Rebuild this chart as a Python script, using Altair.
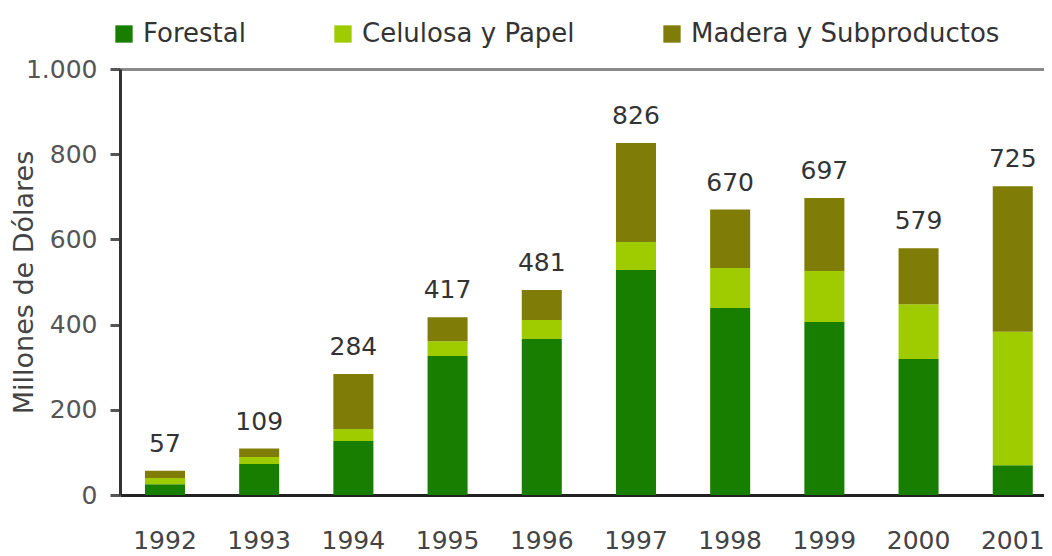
import altair as alt
import pandas as pd

years = ["1992", "1993", "1994", "1995", "1996", "1997", "1998", "1999", "2000", "2001"]
forestal = [25, 73, 127, 326, 366, 528, 439, 406, 319, 70]
celulosa = [15, 16, 28, 35, 45, 66, 94, 120, 129, 313]
madera = [17, 20, 129, 56, 70, 232, 137, 171, 131, 342]
totals = [57, 109, 284, 417, 481, 826, 670, 697, 579, 725]
series = ["Forestal", "Celulosa y Papel", "Madera y Subproductos"]
colors = ["#187e00", "#9ecc00", "#807c08"]

rows = []
for i, y in enumerate(years):
    for k, (name, vals) in enumerate(zip(series, [forestal, celulosa, madera])):
        rows.append({"year": y, "serie": name, "valor": vals[i], "orden": k})
df = pd.DataFrame(rows)
tot = pd.DataFrame({"year": years, "total": totals})

FONT = "DejaVu Sans"

xenc = alt.X("year:N", sort=years, title=None,
             scale=alt.Scale(paddingInner=0.575, paddingOuter=0.192, align=0.69),
             axis=alt.Axis(labelAngle=0, ticks=False, labelPadding=33, labelFontSize=25,
                           labelColor="#444", labelFont=FONT, domainColor="#222", domainWidth=3))

bars = alt.Chart(df).mark_bar().encode(
    x=xenc,
    y=alt.Y("valor:Q", stack="zero",
            scale=alt.Scale(domain=[0, 1000], nice=False),
            axis=alt.Axis(values=[0, 200, 400, 600, 800, 1000], title="Millones de Dólares",
                          labelExpr="datum.value == 1000 ? '1.000' : datum.label",
                          labelFontSize=25, labelColor="#555", labelFont=FONT, labelPadding=13,
                          tickSize=10, tickColor="#555", tickWidth=3,
                          domainColor="#333", domainWidth=3,
                          grid=True, gridWidth=3,
                          gridColor={"condition": {"test": "datum.value == 1000", "value": "#8a8a8a"}, "value": "transparent"},
                          titleFontSize=27, titleFont=FONT, titleFontWeight="normal", titleColor="#444",
                          titleAngle=-90, titleX=-96, titleY=213, titleAlign="center", titleBaseline="middle")),
    color=alt.Color("serie:N", sort=series,
                    scale=alt.Scale(domain=series, range=colors),
                    legend=alt.Legend(title=None, orient="none", legendX=-9, legendY=-48,
                                      direction="horizontal", columns=3, columnPadding=84,
                                      symbolType="square", symbolSize=300, symbolStrokeWidth=0,
                                      symbolOpacity=1, labelOffset=6, labelFontSize=26, labelFont=FONT,
                                      labelColor="#333", padding=0, labelLimit=400)),
    order=alt.Order("orden:Q", sort="ascending"),
)

labels = alt.Chart(tot).mark_text(baseline="bottom", dy=-14, fontSize=25, font=FONT, color="#333").encode(
    x=alt.X("year:N", sort=years),
    y=alt.Y("total:Q"),
    text=alt.Text("total:Q"),
)

chart = alt.layer(bars, labels).properties(
    width=924, height=426,
    autosize=alt.AutoSizeParams(type="none"),
    padding={"left": 112, "top": 61, "right": 0, "bottom": 60},
).configure_view(stroke=None).configure(background="white")

chart.save("out.html", embed_options={"renderer": "svg", "actions": False})
